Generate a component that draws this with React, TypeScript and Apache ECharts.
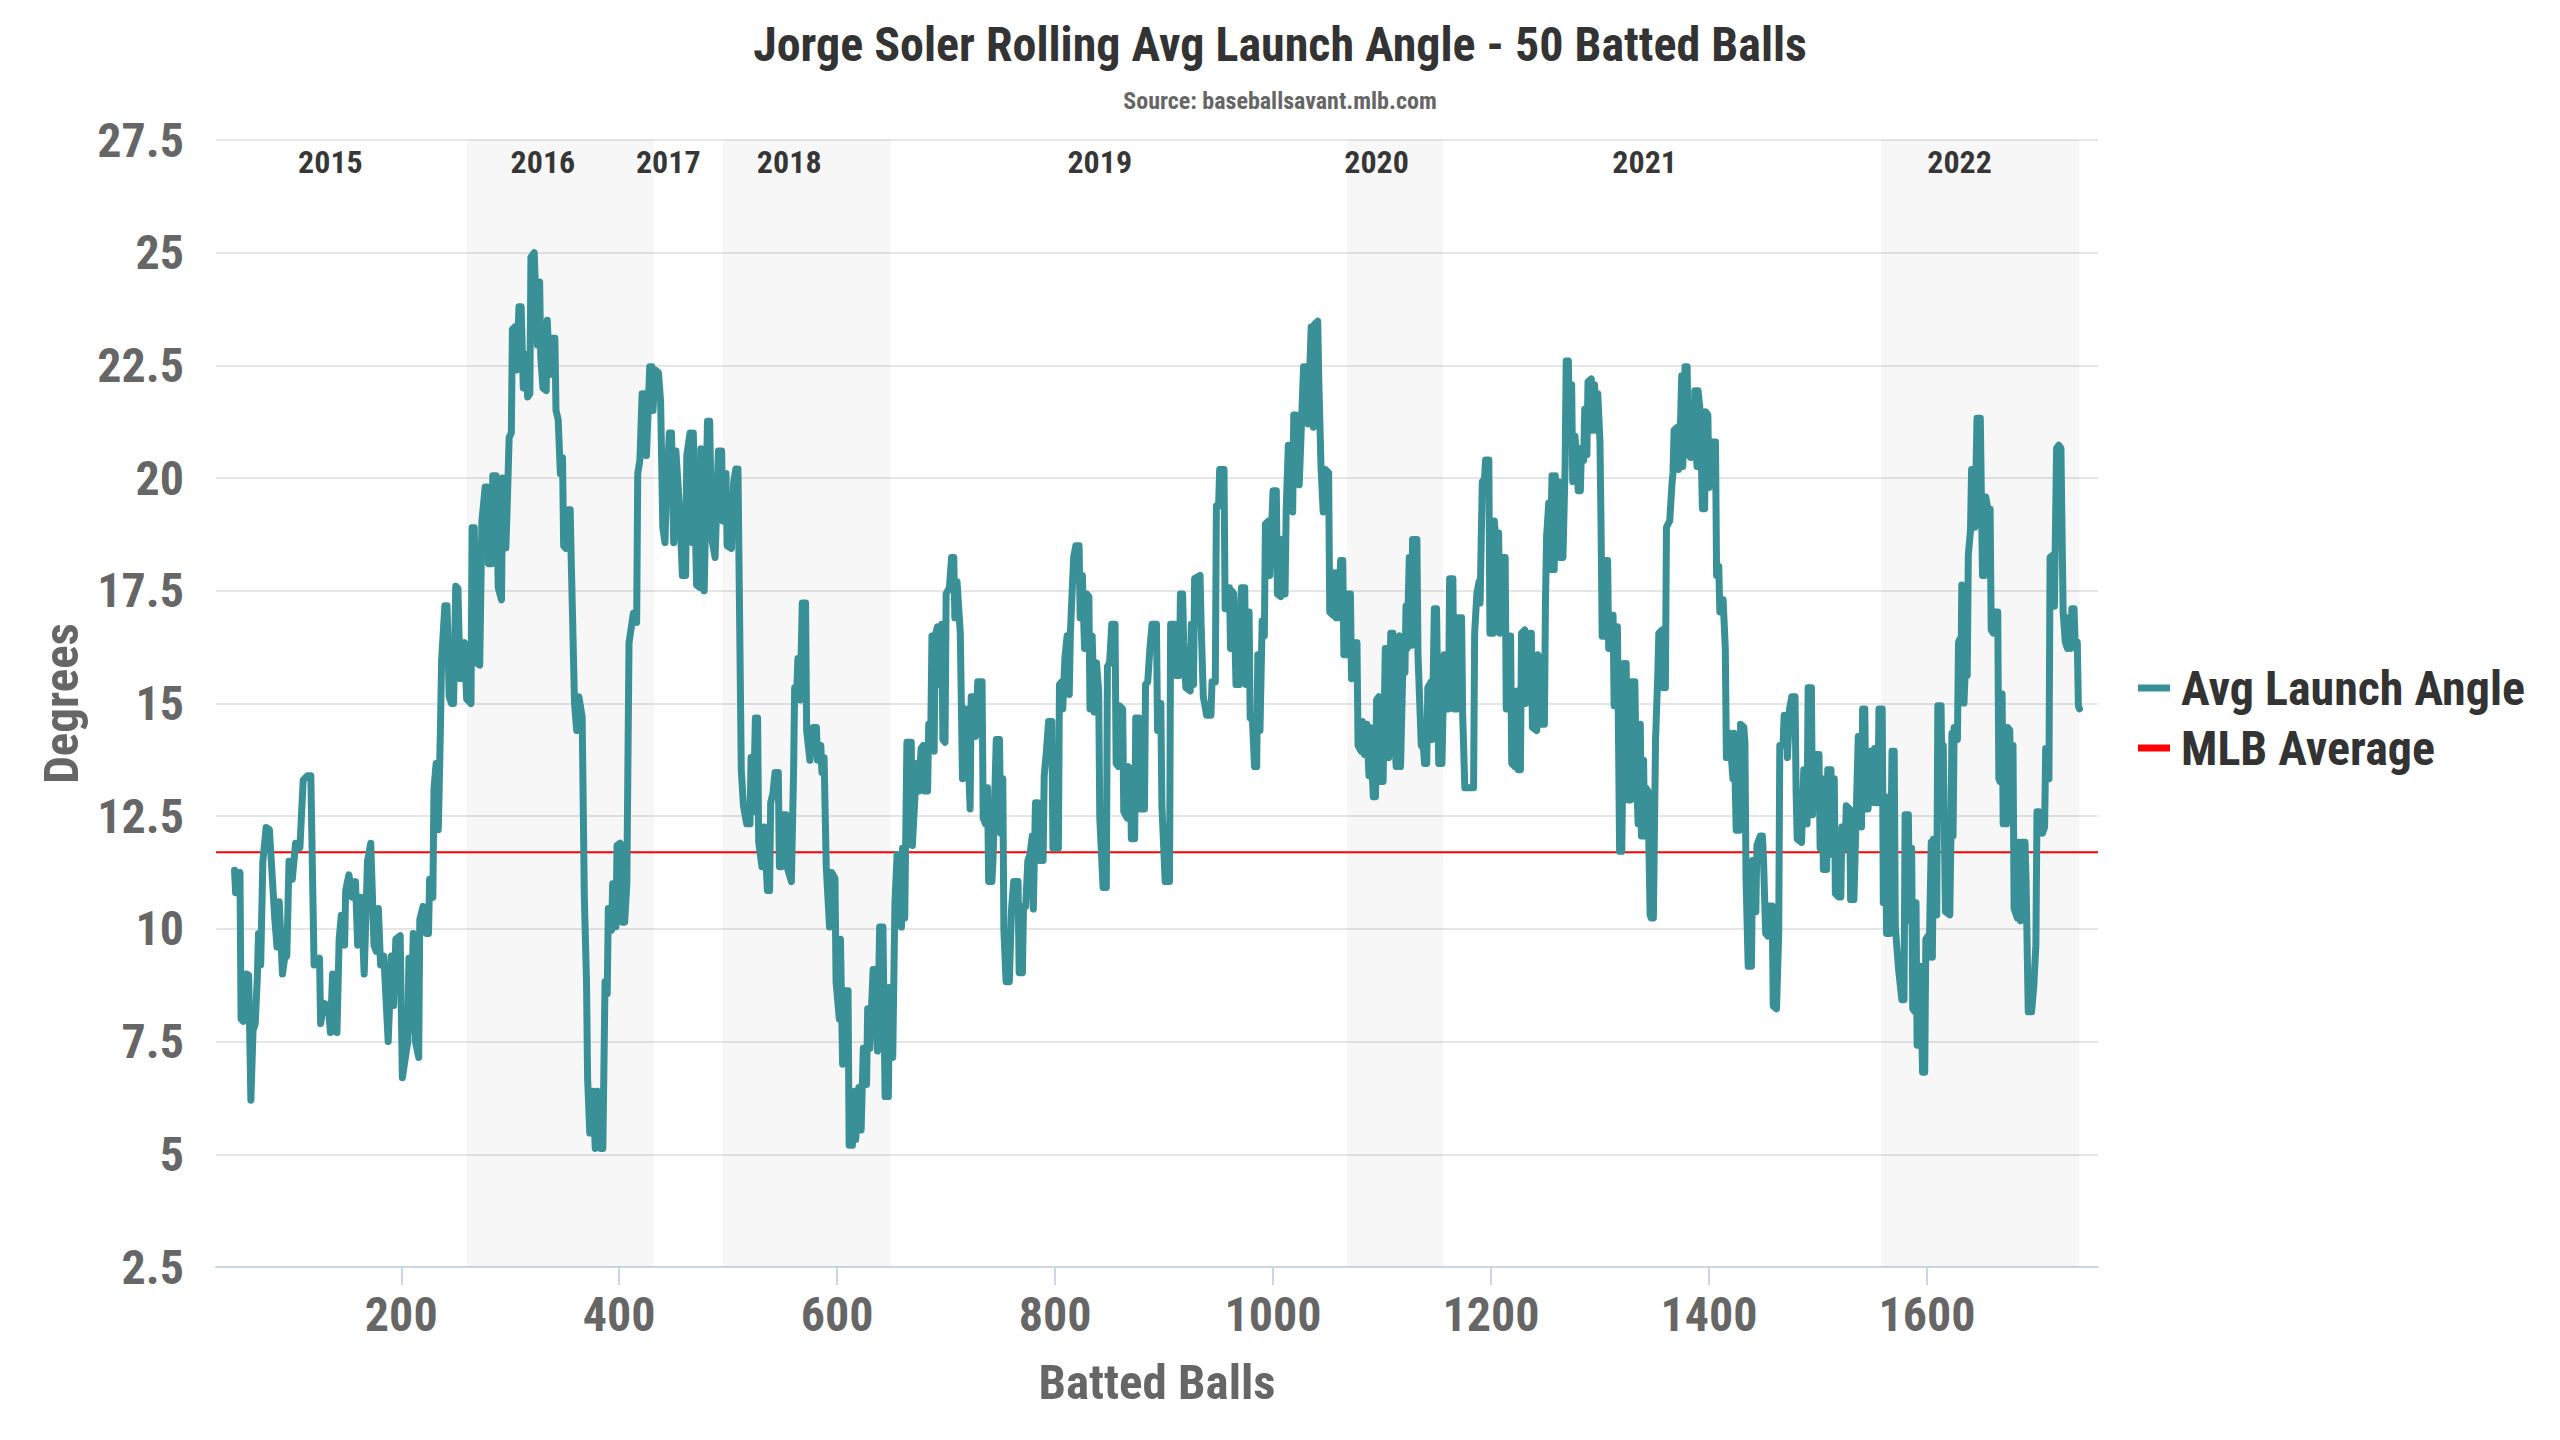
import { useEffect, useRef } from "react";
import * as echarts from "echarts";

const TITLE = "Jorge Soler Rolling Avg Launch Angle - 50 Batted Balls";
const SUBTITLE = "Source: baseballsavant.mlb.com";
const FONT = "'Roboto Condensed', 'Liberation Sans Narrow', 'DejaVu Sans Condensed', Roboto, sans-serif";
const TEAL = "#3a9097";

// [batted ball #, rolling avg launch angle]
const season2015 = [
    [47, 11.3], [48, 10.8], [50, 11.2], [52, 11.25], [53, 8.0], [55, 7.95], [58, 9.0], [60, 8.97], [62, 6.2], [64, 7.75],
    [66, 7.9], [68, 8.97], [69, 9.9], [71, 9.2], [73, 11.5], [76, 12.25], [79, 12.2], [82, 11.0], [84, 10.2], [86, 9.6],
    [88, 10.6], [91, 9.0], [93, 9.35], [95, 9.4], [97, 11.5], [100, 11.1], [103, 11.9], [107, 11.8], [110, 13.3], [114, 13.4],
    [117, 13.4], [120, 9.2], [125, 9.35], [126, 7.9], [129, 8.35], [133, 8.3], [135, 7.7], [137, 9.0], [141, 7.7], [143, 9.77],
    [145, 10.3], [148, 9.64], [149, 10.85], [152, 11.2], [155, 10.7], [158, 11.05], [160, 9.64], [163, 10.7], [166, 9.0], [169, 11.5],
    [172, 11.9], [175, 9.64], [177, 9.5], [179, 10.45], [181, 9.2], [184, 9.4], [188, 7.5], [191, 9.4], [193, 8.3], [195, 9.77],
    [199, 9.85], [201, 6.7], [206, 7.5], [207, 9.35], [209, 7.75], [211, 9.9], [213, 7.5], [216, 7.15], [217, 10.2], [220, 10.5],
    [223, 9.9], [225, 9.9], [226, 11.1], [229, 10.7], [230, 13.1], [232, 13.67], [234, 12.2], [236, 14.5], [237, 15.95], [240, 17.17],
    [242, 17.17], [244, 15.15], [246, 15.0], [248, 15.0], [250, 17.6], [252, 17.55], [254, 15.55], [256, 16.2], [258, 16.35], [260, 15.1],
];
const season2016 = [
    [264, 15.0], [265, 18.9], [267, 18.9], [269, 15.9], [272, 15.85], [274, 19.05], [277, 19.8], [279, 19.8], [280, 18.1], [283, 18.1],
    [284, 20.05], [287, 20.05], [289, 17.57], [292, 17.3], [293, 20.0], [296, 18.45], [297, 19.2], [299, 20.9], [301, 21.0], [302, 23.3],
    [304, 23.35], [306, 22.4], [308, 23.8], [310, 23.8], [312, 22.0], [314, 22.75], [316, 21.8], [318, 21.87], [319, 24.9], [322, 25.0],
    [325, 22.95], [327, 24.35], [328, 22.7], [330, 22.0], [333, 21.94], [334, 23.5], [336, 22.3], [338, 23.1], [341, 23.1], [342, 21.5],
    [344, 21.3], [346, 20.1], [348, 20.45], [349, 18.5], [351, 18.44], [353, 19.3], [355, 19.3], [356, 18.17], [359, 15.0], [361, 14.4],
    [363, 15.15], [366, 14.7], [368, 10.7], [370, 8.83], [371, 6.68], [373, 5.47], [376, 6.4], [378, 5.13], [380, 6.4], [383, 5.13],
    [385, 5.13], [387, 8.83], [389, 8.56], [390, 10.45], [393, 9.97], [394, 11.0], [397, 10.05], [398, 11.85], [401, 11.9], [403, 10.15],
    [405, 10.15], [407, 11.0], [409, 16.35], [413, 17.0], [416, 16.8], [417, 20.1], [419, 20.4], [421, 21.87], [423, 21.87], [425, 20.5],
    [428, 22.47], [430, 22.47], [431, 21.5],
];
const season2017 = [
    [433, 22.4], [436, 22.34], [438, 21.7], [440, 18.9], [442, 18.57], [443, 19.45], [446, 21.0], [448, 21.0], [450, 18.57], [452, 20.6],
    [455, 19.5], [458, 17.84], [461, 17.84], [462, 20.5], [465, 21.0], [467, 18.57], [468, 21.0], [471, 17.63], [474, 17.57], [475, 20.65],
    [478, 17.5], [481, 21.26], [483, 21.26], [485, 18.64], [488, 18.24], [491, 20.6], [494, 20.6],
];
const season2018 = [
    [495, 19.05], [497, 20.1], [498, 20.1], [499, 18.5], [503, 18.44], [505, 19.9], [507, 20.2], [509, 20.2], [512, 13.53], [514, 12.73],
    [517, 12.33], [520, 12.33], [521, 13.8], [523, 12.6], [525, 14.68], [527, 14.68], [528, 11.92], [531, 11.38], [533, 12.26], [536, 10.85],
    [538, 10.85], [539, 12.8], [541, 13.0], [543, 13.47], [546, 13.47], [547, 11.38], [549, 11.38], [550, 12.53], [553, 12.53], [554, 11.38],
    [558, 11.05], [560, 13.47], [561, 15.35], [563, 15.35], [564, 16.0], [566, 15.08], [568, 17.23], [571, 17.23], [572, 14.4], [575, 13.74],
    [578, 14.47], [581, 14.47], [582, 13.74], [585, 14.07], [586, 13.47], [588, 13.8], [590, 11.38], [593, 10.04], [595, 11.25], [598, 11.12],
    [599, 8.83], [602, 8.0], [603, 9.77], [605, 7.0], [607, 8.63], [610, 8.63], [611, 5.2], [614, 5.2], [616, 6.4], [617, 5.33],
    [620, 6.48], [622, 5.54], [624, 7.35], [627, 6.55], [628, 8.23], [630, 7.35], [633, 9.1], [636, 9.1], [637, 7.29], [639, 10.04],
    [642, 10.04], [644, 6.28], [647, 6.28], [648, 8.7],
];
const season2019 = [
    [651, 7.15], [653, 10.58], [655, 11.65], [657, 11.65], [659, 10.04], [660, 11.79], [662, 10.24], [664, 14.14], [668, 14.14], [669, 11.85],
    [673, 13.67], [675, 13.06], [677, 14.0], [679, 14.07], [680, 13.06], [683, 13.06], [684, 14.54], [686, 14.54], [687, 16.5], [689, 13.94],
    [690, 16.5], [692, 16.7], [694, 15.42], [696, 16.76], [697, 14.2], [699, 14.14], [700, 17.43], [703, 17.57], [705, 18.24], [707, 18.24],
    [708, 16.9], [710, 17.7], [713, 16.56], [715, 13.33], [718, 14.88], [719, 14.74], [722, 12.66], [723, 15.15], [725, 15.15], [727, 14.27],
    [729, 15.48], [733, 15.48], [734, 12.46], [736, 12.33], [738, 13.13], [739, 11.05], [742, 11.05], [743, 11.52], [746, 14.2], [749, 14.2],
    [750, 12.12], [752, 13.33], [753, 9.97], [755, 8.83], [758, 8.83], [760, 10.44], [762, 11.05], [766, 11.05], [767, 9.03], [770, 9.03],
    [771, 10.5], [773, 10.5], [775, 11.52], [777, 11.65], [779, 12.06], [780, 10.44], [782, 12.8], [784, 12.8], [786, 11.52], [789, 11.52],
    [790, 13.4], [792, 13.94], [794, 14.6], [797, 14.6], [798, 11.79], [803, 11.79], [804, 15.42], [806, 15.48], [807, 14.88], [809, 16.02],
    [811, 16.5], [813, 15.2], [814, 16.56], [817, 18.24], [819, 18.5], [822, 18.5], [823, 16.9], [825, 17.84], [827, 16.22], [829, 17.43],
    [831, 17.37], [832, 14.88], [834, 16.5], [836, 14.81], [838, 15.9], [840, 15.28], [841, 12.46], [844, 10.92], [847, 10.92], [848, 15.82],
    [850, 15.9], [852, 16.76], [855, 16.76], [856, 13.67], [858, 13.6], [859, 14.95], [862, 14.88], [863, 12.6], [866, 12.46], [867, 13.6],
    [869, 13.53], [870, 12.0], [873, 12.0], [874, 14.68], [877, 14.68], [878, 12.66], [882, 12.66], [883, 15.42], [885, 15.48], [887, 16.22],
    [889, 16.76], [893, 16.76], [894, 14.4], [896, 14.4], [897, 15.0], [898, 12.73], [901, 11.05], [905, 11.05], [906, 16.76], [910, 16.76],
    [911, 15.62], [914, 15.62], [915, 17.43], [917, 17.43], [918, 16.35], [920, 15.35], [924, 15.28], [925, 16.76], [927, 15.42], [928, 17.77],
    [933, 17.84], [934, 16.76], [936, 15.15], [939, 14.74], [943, 14.74], [944, 15.48], [947, 15.48], [948, 19.38], [950, 19.38], [951, 20.19],
    [955, 20.19], [956, 17.1], [959, 17.1], [960, 17.57], [961, 16.22], [962, 17.5], [964, 17.43], [966, 15.42], [969, 15.42], [971, 17.57],
    [974, 17.57], [975, 15.42], [976, 17.03], [978, 17.03], [979, 14.68], [981, 14.68], [983, 13.6], [985, 13.6], [986, 16.08], [988, 14.4],
    [990, 16.83], [992, 16.5], [993, 18.98], [996, 19.05], [997, 17.84], [1000, 19.72], [1003, 19.72], [1004, 17.43], [1007, 17.37], [1008, 18.64],
    [1011, 17.43], [1012, 19.25], [1014, 20.73], [1016, 20.73], [1018, 19.25], [1019, 21.4], [1021, 21.4], [1024, 19.85], [1028, 22.47], [1031, 22.47],
    [1032, 21.2], [1035, 23.35], [1037, 21.13], [1038, 23.41], [1041, 23.48], [1042, 22.14], [1044, 20.26], [1046, 19.25], [1048, 20.19], [1051, 20.12],
    [1052, 17.03], [1055, 16.96], [1057, 17.9], [1058, 16.9], [1060, 16.9], [1062, 18.17], [1064, 18.17], [1065, 16.08], [1067, 16.08],
];
const season2020 = [
    [1069, 17.43], [1071, 17.43], [1072, 15.55], [1074, 16.35], [1077, 16.35], [1078, 14.07], [1081, 13.94], [1082, 14.6], [1084, 13.87], [1086, 14.54],
    [1088, 13.4], [1089, 14.47], [1092, 12.93], [1094, 12.93], [1095, 15.08], [1097, 15.15], [1098, 13.27], [1101, 13.27], [1103, 16.22], [1105, 16.22],
    [1106, 13.8], [1108, 16.56], [1110, 16.56], [1111, 14.47], [1113, 13.6], [1115, 16.42], [1116, 16.5], [1117, 13.6], [1119, 15.69], [1121, 15.69],
    [1122, 17.16], [1123, 16.22], [1125, 18.24], [1127, 16.29], [1128, 18.64], [1132, 18.64], [1133, 16.08], [1136, 14.07], [1138, 14.0], [1139, 13.67],
    [1141, 13.67], [1142, 15.35], [1145, 15.48], [1146, 14.2], [1148, 17.1], [1150, 17.1], [1152, 13.67], [1155, 13.67],
];
const season2021 = [
    [1157, 16.08], [1159, 14.88], [1161, 14.88], [1162, 17.77], [1165, 17.77], [1166, 14.88], [1169, 14.88], [1170, 16.9], [1173, 16.9], [1174, 14.74],
    [1176, 13.13], [1184, 13.13], [1185, 16.56], [1187, 17.43], [1189, 17.7], [1190, 17.23], [1192, 19.92], [1194, 19.98], [1195, 20.4], [1198, 20.4],
    [1199, 16.56], [1202, 16.56], [1203, 19.05], [1204, 18.78], [1207, 18.78], [1208, 16.56], [1210, 18.24], [1213, 18.24], [1214, 14.88], [1216, 14.88],
    [1218, 16.5], [1219, 13.67], [1222, 13.6], [1224, 15.28], [1225, 13.53], [1227, 13.53], [1228, 16.56], [1231, 16.63], [1232, 15.0], [1234, 15.08],
    [1236, 16.56], [1237, 16.56], [1238, 14.47], [1242, 14.4], [1243, 16.08], [1244, 16.02], [1246, 14.54], [1249, 14.54], [1250, 17.3], [1251, 18.7],
    [1253, 19.45], [1254, 17.97], [1256, 20.05], [1258, 17.97], [1259, 20.05], [1260, 19.05], [1262, 19.92], [1263, 18.24], [1266, 18.24], [1268, 20.26],
    [1269, 22.6], [1271, 22.6], [1272, 21.06], [1274, 22.07], [1275, 19.92], [1277, 20.93], [1279, 20.39], [1280, 19.72], [1282, 19.72], [1283, 20.66],
    [1285, 20.39], [1286, 21.53], [1288, 20.52], [1289, 22.14], [1292, 22.2], [1293, 21.06], [1295, 22.07], [1297, 21.06], [1298, 21.87], [1300, 20.8],
    [1301, 18.91], [1302, 16.49], [1304, 16.49], [1306, 18.17], [1307, 18.17], [1308, 16.22], [1310, 16.96], [1312, 16.96], [1313, 14.95], [1315, 16.7],
    [1316, 16.7], [1318, 11.72], [1320, 11.72], [1322, 15.89], [1324, 15.89], [1326, 12.86], [1328, 12.86], [1329, 15.48], [1332, 15.48], [1333, 13.8],
    [1335, 12.33], [1337, 14.54], [1338, 12.06], [1340, 13.74], [1341, 12.06], [1342, 13.13], [1344, 13.06], [1346, 10.31], [1347, 10.24], [1349, 10.24],
    [1351, 14.2], [1353, 15.62], [1354, 16.56], [1357, 16.63], [1358, 15.35], [1360, 15.35], [1361, 18.91], [1364, 19.05], [1366, 19.85], [1367, 20.12],
    [1368, 21.06], [1371, 21.13], [1372, 20.19], [1373, 20.39], [1375, 22.27], [1376, 20.26], [1378, 22.47], [1380, 22.47], [1381, 20.52], [1383, 20.46],
    [1384, 21.47], [1386, 20.46], [1387, 21.94], [1389, 20.26], [1390, 21.94], [1392, 21.47], [1394, 19.32], [1396, 19.32], [1397, 21.47], [1399, 21.4],
    [1400, 19.79], [1403, 20.8], [1406, 20.8], [1407, 17.84], [1408, 17.84], [1409, 18.04], [1410, 17.03], [1411, 17.03], [1412, 17.3], [1413, 17.3],
    [1415, 16.22], [1416, 13.8], [1418, 13.8], [1419, 14.34], [1422, 13.33], [1423, 14.34], [1425, 12.19], [1428, 12.19], [1429, 14.54], [1432, 14.47],
    [1433, 14.14], [1434, 11.12], [1436, 9.17], [1439, 9.17], [1440, 11.52], [1443, 10.38], [1444, 11.85], [1447, 12.06], [1449, 12.06], [1450, 11.59],
    [1452, 9.9], [1454, 9.84], [1455, 10.51], [1458, 10.51], [1459, 8.29], [1462, 8.23], [1464, 9.9], [1465, 14.07], [1468, 14.07], [1469, 14.74],
    [1471, 14.74], [1472, 13.8], [1474, 14.88], [1476, 15.15], [1479, 15.15], [1480, 13.0], [1481, 11.99], [1485, 11.92], [1487, 13.53], [1490, 12.33],
    [1491, 15.35], [1494, 15.35], [1495, 12.53], [1498, 13.87], [1501, 13.87], [1502, 11.79], [1504, 13.33], [1505, 11.32], [1508, 11.32], [1509, 13.53],
    [1512, 13.53], [1513, 11.65], [1515, 13.33], [1516, 10.78], [1519, 10.71], [1521, 10.71], [1522, 12.26], [1525, 11.79], [1526, 12.73], [1529, 12.66],
    [1530, 10.65], [1533, 10.65], [1534, 11.52], [1537, 14.27], [1539, 14.27], [1540, 12.26], [1541, 14.88], [1543, 14.88], [1544, 12.66], [1546, 12.66],
    [1548, 13.94], [1549, 12.8], [1552, 14.0], [1553, 12.8], [1555, 12.8], [1556, 14.88],
];
const season2022 = [
    [1559, 14.88], [1560, 10.58], [1562, 12.93], [1563, 9.9], [1566, 9.9], [1568, 13.94], [1570, 13.94], [1571, 10.04], [1574, 9.1], [1577, 8.43],
    [1579, 8.43], [1580, 12.53], [1583, 12.53], [1584, 10.18], [1586, 11.79], [1587, 8.23], [1589, 8.16], [1590, 10.58], [1591, 7.42], [1593, 9.17],
    [1594, 9.17], [1596, 6.82], [1598, 6.82], [1599, 9.77], [1601, 9.84], [1602, 9.37], [1604, 11.92], [1605, 9.37], [1606, 11.99], [1608, 10.31],
    [1609, 10.31], [1610, 14.95], [1613, 14.95], [1614, 13.0], [1615, 14.07], [1617, 10.38], [1621, 10.31], [1622, 11.99], [1623, 14.34], [1624, 12.06],
    [1625, 14.47], [1628, 14.2], [1629, 16.36], [1630, 16.42], [1631, 15.01], [1632, 17.63], [1634, 15.01], [1635, 15.62], [1637, 15.62], [1638, 18.3],
    [1640, 18.84], [1641, 20.19], [1643, 20.19], [1644, 18.91], [1646, 21.33], [1649, 21.33], [1650, 19.58], [1651, 17.84], [1653, 17.84], [1654, 19.58],
    [1656, 19.31], [1658, 19.31], [1659, 16.63], [1661, 16.56], [1662, 17.03], [1665, 17.03], [1666, 13.33], [1667, 13.27], [1669, 15.21], [1670, 12.33],
    [1673, 12.33], [1674, 14.47], [1676, 14.41], [1677, 13.4], [1679, 14.07], [1680, 10.45], [1683, 10.24], [1684, 11.92], [1686, 10.18], [1687, 11.92],
    [1690, 11.92], [1691, 11.05], [1693, 8.16], [1696, 8.16], [1698, 8.7], [1700, 9.64], [1701, 12.6], [1703, 12.6], [1706, 12.12], [1708, 12.26],
    [1709, 14.0], [1710, 14.0], [1712, 13.33], [1713, 18.24], [1716, 18.3], [1717, 17.16], [1719, 20.66], [1721, 20.73], [1723, 20.66], [1725, 17.03],
    [1727, 16.36], [1729, 16.22], [1730, 16.9], [1732, 16.22], [1733, 17.1], [1735, 17.1], [1736, 16.36], [1738, 16.36], [1739, 14.95], [1740, 14.88],
];

const mlbAverage = 11.7;
const xMin = 30;
const xMax = 1757;
const xTicks = [200, 400, 600, 800, 1000, 1200, 1400, 1600];

// shaded seasons (2016, 2018, 2020, 2022): [first ball, last ball]
const shadedSeasons = [[260, 432], [495, 649], [1068, 1156], [1558, 1740]];
const yearLabels = ["2015", "2016", "2017", "2018", "2019", "2020", "2021", "2022"];
const yearLabelX = [135, 330, 445, 556, 841, 1095, 1341, 1630];
const yearLabelY = 27.02;

export default function App() {
    const domRef = useRef<HTMLDivElement>(null);

    useEffect(() => {
        if (!domRef.current) return;
        const chart = echarts.init(domRef.current, undefined, {renderer: "svg"});
        const rolling = [
            ...season2015, ...season2016, ...season2017, ...season2018,
            ...season2019, ...season2020, ...season2021, ...season2022,
        ];
        const axisText = {fontFamily: FONT, fontSize: 48, fontWeight: "bold", color: "#666"};
        const nameText = {fontFamily: FONT, fontSize: 49, fontWeight: "bold", color: "#666"};

        chart.setOption({
            animation: false,
            backgroundColor: "#fff",
            textStyle: {fontFamily: FONT},
            title: [
                {
                    text: TITLE, left: "center", top: 15, padding: 0,
                    textStyle: {fontFamily: FONT, fontSize: 48, fontWeight: "bold", color: "#333", lineHeight: 58},
                },
                {
                    text: SUBTITLE, left: "center", top: 87, padding: 0,
                    textStyle: {fontFamily: FONT, fontSize: 24, fontWeight: "bold", color: "#666", lineHeight: 28},
                },
            ],
            legend: {
                orient: "vertical", left: 2138, top: 662, padding: 0,
                icon: "rect", itemWidth: 32, itemHeight: 7, itemGap: 8,
                data: ["Avg Launch Angle", "MLB Average"],
                textStyle: {fontFamily: FONT, fontSize: 48, fontWeight: "bold", color: "#333", lineHeight: 52, padding: [0, 0, 0, 6]},
            },
            grid: {left: 216, right: 462, top: 140, bottom: 173},
            xAxis: {
                type: "value", min: xMin, max: xMax,
                name: "Batted Balls", nameLocation: "middle", nameGap: 91, nameTextStyle: nameText,
                axisLine: {lineStyle: {color: "#ccd6eb", width: 2}},
                axisTick: {show: true, length: 18, customValues: xTicks, lineStyle: {color: "#ccd6eb", width: 2}},
                axisLabel: {...axisText, customValues: xTicks, margin: 23, formatter: (v: number) => String(v)},
                splitLine: {show: false},
            },
            yAxis: {
                type: "value", min: 2.5, max: 27.5, interval: 2.5,
                name: "Degrees", nameLocation: "middle", nameGap: 126, nameRotate: 90, nameTextStyle: nameText,
                axisLine: {show: false}, axisTick: {show: false},
                axisLabel: {...axisText, margin: 32, formatter: (v: number) => String(v)},
                splitLine: {lineStyle: {color: "#e6e6e6", width: 2}},
            },
            series: [
                {
                    name: "MLB Average", type: "line", z: 2, silent: true, symbol: "none",
                    data: [[xMin, mlbAverage], [xMax, mlbAverage]],
                    lineStyle: {color: "#ff0000", width: 2},
                    itemStyle: {color: "#ff0000"},
                },
                {
                    name: "Avg Launch Angle", type: "line", z: 3, silent: true, symbol: "none",
                    data: rolling,
                    lineStyle: {color: TEAL, width: 7, cap: "round", join: "round"},
                    itemStyle: {color: TEAL},
                    markArea: {
                        silent: true,
                        itemStyle: {color: "rgba(0,0,0,0.032)"},
                        data: shadedSeasons.map(([a, b]) => [{xAxis: a}, {xAxis: b}]),
                    },
                },
                {
                    name: "Seasons", type: "scatter", z: 4, silent: true, symbolSize: 1,
                    itemStyle: {color: "transparent"},
                    data: yearLabelX.map((x) => [x, yearLabelY]),
                    label: {
                        show: true, position: "inside",
                        formatter: (p: any) => yearLabels[p.dataIndex],
                        fontFamily: FONT, fontSize: 32, fontWeight: "bold", color: "#000",
                    },
                },
            ],
        });

        return () => chart.dispose();
    }, []);

    return <div ref={domRef} style={{position: "fixed", left: 0, top: 0, width: 2560, height: 1440, background: "#fff"}} />;
}
